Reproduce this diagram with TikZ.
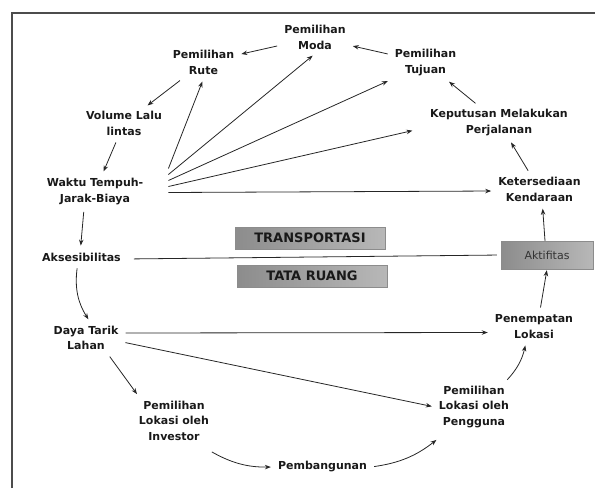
\documentclass[tikz,border=0pt]{standalone}
\usepackage{fontspec}
\setmainfont{DejaVu Sans}
\usepackage{tikz}
\usetikzlibrary{arrows.meta}

\tikzset{
	lbl/.style={font=\fontsize{11}{15.5}\selectfont\bfseries, align=center, inner sep=4pt, text=black!90},
	graybox/.style={draw=black!45, line width=0.4pt, left color=black!45, right color=black!28, minimum height=22pt, font=\fontsize{13}{15}\selectfont\bfseries, text=black!90},
	arr/.style={-{Stealth[length=6pt,width=4.5pt]}, line width=0.8pt, draw=black!85, shorten <=3pt, shorten >=3pt},
	frame/.style={line width=1.1pt, draw=black!70}
}

\begin{document}
\begin{tikzpicture}[x=1pt, y=-1pt]
			%%%%% START %%%%%
			\useasboundingbox (0, 0) rectangle (595, 488);
			
			\draw[frame] (12, 488) -- (12, 13) -- (595, 13);
			
			% upper half
			\node[lbl] (moda) at (315, 37.5) {Pemilihan\\Moda};
			\node[lbl] (rute) at (203.5, 62.5) {Pemilihan\\Rute};
			\node[lbl] (tujuan) at (425.5, 62.5) {Pemilihan\\Tujuan};
			\node[lbl] (volume) at (124, 123.5) {Volume Lalu\\lintas};
			\node[lbl] (keputusan) at (499, 122.5) {Keputusan Melakukan\\Perjalanan};
			\node[lbl] (waktu) at (95, 191.5) {Waktu Tempuh-\\Jarak-Biaya};
			\node[lbl] (kendaraan) at (539.5, 189.5) {Ketersediaan\\Kendaraan};
			
			% middle
			\node[graybox, minimum width=150pt] (transport) at (310, 238) {TRANSPORTASI};
			\node[graybox, minimum width=150pt] (tataruang) at (312, 276) {TATA RUANG};
			\node[graybox, minimum width=92pt, minimum height=28pt, font=\fontsize{11}{13}\selectfont, text=black!80] (aktifitas) at (547, 255) {Aktifitas};
			\node[lbl] (aksesibilitas) at (81.5, 257) {Aksesibilitas};
			
			% lower half
			\node[lbl] (daya) at (86, 338) {Daya Tarik\\Lahan};
			\node[lbl] (penempatan) at (534, 326.5) {Penempatan\\Lokasi};
			\node[lbl] (investor) at (174, 420.5) {Pemilihan\\Lokasi oleh\\Investor};
			\node[lbl] (pengguna) at (474, 407) {Pemilihan\\Lokasi oleh\\Pengguna};
			\node[lbl] (pembangunan) at (322.5, 467) {Pembangunan};
			
			% transport loop
			\draw[arr] (moda) -- (rute);
			\draw[arr] (tujuan) -- (moda);
			\draw[arr] (rute) -- (volume);
			\draw[arr] (volume) -- (waktu);
			\draw[arr] ([xshift=-11pt]waktu.south) -- ([xshift=-1pt]aksesibilitas.north);
			\draw[arr] (keputusan) -- (tujuan);
			\draw[arr] (kendaraan) -- (keputusan);
			\draw[arr, shorten <=0pt] ([xshift=-2pt]aktifitas.north) -- ([xshift=3pt]kendaraan.south);
			
			% fan out of waktu
			\draw[arr, shorten <=0pt] ([xshift=21pt, yshift=23pt]waktu.east) -- (rute.south);
			\draw[arr, shorten <=0pt] ([xshift=21pt, yshift=17pt]waktu.east) -- (moda.south);
			\draw[arr, shorten <=0pt] ([xshift=21pt, yshift=11pt]waktu.east) -- (tujuan.south west);
			\draw[arr, shorten <=0pt, shorten >=14pt] ([xshift=21pt, yshift=5pt]waktu.east) -- ([yshift=-5pt]keputusan.west);
			\draw[arr, shorten <=0pt] ([xshift=21pt, yshift=-1pt]waktu.east) -- ([yshift=-1.5pt]kendaraan.west);
			
			\draw[line width=0.8pt, draw=black!85, shorten <=9pt, shorten >=4pt] ([yshift=-2pt]aksesibilitas.east) -- (aktifitas.west);
			
			% land use loop
			\draw[arr] ([xshift=-4pt]aksesibilitas.south) to[bend right=20] ([xshift=4pt]daya.north);
			\draw[arr] ([yshift=5pt]daya.east) -- ([yshift=-6pt]penempatan.west);
			\draw[arr] ([yshift=-4pt]daya.east) -- (pengguna.west);
			\draw[arr] ([xshift=22pt]daya.south) -- ([xshift=4pt]investor.north west);
			\draw[arr] ([xshift=-4pt, yshift=-6pt]investor.south east) to[bend right=15] (pembangunan.west);
			\draw[arr] (pembangunan.east) to[bend right=15] ([xshift=4pt, yshift=-6pt]pengguna.south west);
			\draw[arr] ([xshift=-8pt]pengguna.north east) to[bend right=15] ([xshift=-8pt]penempatan.south);
			\draw[arr, shorten >=1pt] ([xshift=6pt]penempatan.north) -- (aktifitas.south);
			
			%%%%% END %%%%%
		\end{tikzpicture}
\end{document}
